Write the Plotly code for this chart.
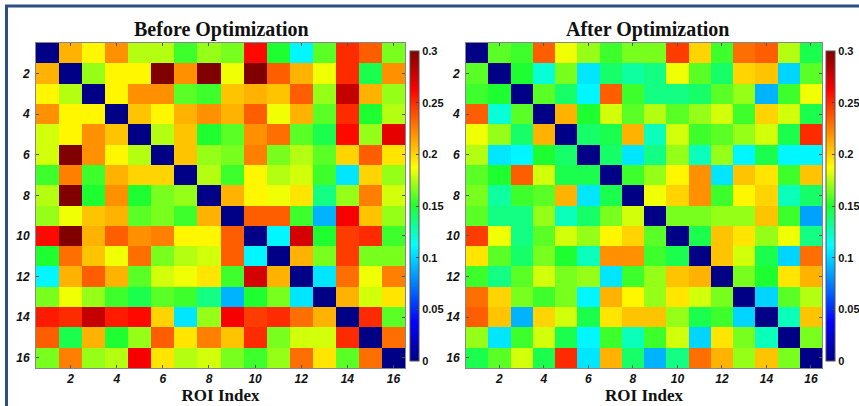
import plotly.graph_objects as go

roi = list(range(1, 17))
tick_vals = [2, 4, 6, 8, 10, 12, 14, 16]
tick_text = ["2", "4", "6", "8", "10", "12", "14", "16"]
cbar_vals = [0, 0.05, 0.1, 0.15, 0.2, 0.25, 0.3]
cbar_text = ["0", "0.05", "0.1", "0.15", "0.2", "0.25", "0.3"]

before = [
    [0, .21, .19, .22, .175, .175, .155, .17, .165, .26, .15, .11, .16, .25, .235, .165],
    [.21, 0, .17, .19, .19, .30, .22, .30, .185, .30, .235, .21, .185, .25, .145, .22],
    [.19, .175, 0, .19, .22, .22, .16, .155, .205, .21, .205, .235, .17, .28, .21, .17],
    [.22, .19, .19, 0, .205, .19, .21, .22, .21, .235, .185, .21, .16, .25, .15, .175],
    [.18, .19, .22, .205, 0, .175, .205, .15, .16, .22, .23, .16, .145, .26, .17, .27],
    [.18, .30, .22, .19, .175, 0, .205, .17, .165, .225, .165, .175, .16, .20, .235, .195],
    [.155, .225, .155, .21, .20, .20, 0, .175, .155, .19, .175, .18, .155, .105, .20, .17],
    [.175, .30, .15, .22, .15, .165, .17, 0, .21, .19, .185, .195, .135, .17, .225, .18],
    [.17, .185, .205, .21, .16, .165, .155, .21, 0, .235, .235, .155, .09, .265, .205, .17],
    [.26, .30, .21, .235, .22, .225, .19, .19, .235, 0, .11, .275, .15, .245, .25, .155],
    [.15, .23, .205, .185, .23, .165, .175, .18, .235, .11, 0, .21, .165, .245, .165, .165],
    [.11, .21, .235, .21, .16, .18, .185, .195, .155, .275, .21, 0, .105, .23, .185, .225],
    [.165, .185, .17, .155, .145, .16, .155, .135, .09, .15, .165, .105, 0, .21, .18, .195],
    [.255, .25, .28, .255, .26, .20, .105, .17, .265, .245, .25, .23, .21, 0, .25, .16],
    [.235, .145, .21, .15, .17, .235, .195, .225, .205, .25, .165, .18, .18, .25, 0, .23],
    [.165, .225, .17, .175, .265, .195, .175, .18, .165, .155, .17, .23, .195, .16, .23, 0],
]

after = [
    [0, .16, .155, .235, .185, .17, .155, .165, .165, .245, .20, .155, .23, .235, .175, .145],
    [.16, 0, .15, .12, .165, .105, .14, .13, .135, .185, .16, .14, .20, .205, .10, .16],
    [.155, .15, 0, .16, .14, .11, .235, .155, .135, .135, .14, .16, .17, .09, .155, .185],
    [.235, .12, .16, 0, .21, .15, .18, .16, .175, .16, .17, .18, .155, .20, .18, .145],
    [.185, .17, .14, .21, 0, .14, .145, .21, .125, .18, .155, .16, .17, .18, .145, .25],
    [.175, .105, .11, .15, .14, 0, .14, .105, .135, .17, .125, .17, .11, .145, .11, .11],
    [.16, .15, .235, .18, .145, .145, 0, .155, .17, .19, .22, .105, .205, .195, .155, .205],
    [.165, .13, .155, .16, .21, .105, .145, 0, .185, .20, .22, .155, .19, .20, .125, .14],
    [.16, .135, .135, .17, .125, .14, .165, .18, 0, .165, .165, .17, .17, .205, .155, .085],
    [.245, .185, .135, .16, .18, .17, .19, .20, .16, 0, .145, .205, .195, .17, .185, .135],
    [.195, .16, .14, .165, .15, .125, .22, .22, .155, .145, 0, .205, .18, .145, .10, .23],
    [.155, .135, .16, .18, .165, .17, .105, .155, .17, .205, .21, 0, .165, .15, .195, .21],
    [.23, .20, .165, .155, .165, .11, .21, .19, .17, .195, .18, .165, 0, .10, .16, .175],
    [.235, .205, .09, .20, .18, .145, .195, .205, .205, .17, .145, .155, .10, 0, .125, .205],
    [.17, .105, .155, .18, .145, .11, .155, .125, .155, .18, .10, .195, .165, .125, 0, .165],
    [.145, .16, .18, .145, .25, .105, .21, .14, .09, .135, .23, .21, .17, .205, .165, 0],
]

jet = [
    [0.0, "rgb(0,0,135)"],
    [0.125, "rgb(0,0,255)"],
    [0.375, "rgb(0,255,255)"],
    [0.5, "rgb(30,255,50)"],
    [0.625, "rgb(255,255,0)"],
    [0.875, "rgb(255,0,0)"],
    [1.0, "rgb(128,0,0)"],
]

W, H = 859, 406
L, R, T, B = 36, 37, 43, 38
PW, PH = W - L - R, H - T - B


def px_x(p):
    return (p - L) / PW


def px_y(p):
    return 1 - (p - T) / PH


def clip01(v):
    return max(0.0, min(1.0, v))


cb_font = dict(family="Liberation Sans, Arial", size=11, color="#111", weight="bold")


def make_cbar(xpx):
    return dict(
        x=px_x(xpx), xanchor="left", xpad=0,
        y=px_y(206), yanchor="middle", len=310 / PH, lenmode="fraction",
        thickness=9, ypad=0,
        outlinecolor="#555", outlinewidth=1,
        tickvals=cbar_vals, ticktext=cbar_text,
        ticks="inside", ticklen=3, tickcolor="#444",
        tickfont=cb_font,
    )


fig = go.Figure()
fig.add_trace(go.Heatmap(
    z=before, x=roi, y=roi, colorscale=jet, zmin=0, zmax=0.3,
    colorbar=make_cbar(410), xaxis="x", yaxis="y",
))
fig.add_trace(go.Heatmap(
    z=after, x=roi, y=roi, colorscale=jet, zmin=0, zmax=0.3,
    colorbar=make_cbar(826), xaxis="x2", yaxis="y2",
))

tick_font = dict(family="Liberation Sans Narrow, Liberation Sans, Arial", size=12,
                 color="#111", weight="bold", style="italic")
title_font = dict(family="Liberation Serif, Times New Roman", size=17, color="#111", weight="bold")

ax_common = dict(
    tickvals=tick_vals, ticktext=tick_text, tickfont=tick_font,
    ticks="inside", ticklen=3, tickcolor="#555",
    showline=True, linecolor="#888", linewidth=1, mirror="ticks",
    showgrid=False, zeroline=False, automargin=False,
)

fig.update_layout(
    width=W, height=H,
    margin=dict(l=L, r=R, t=T, b=B, autoexpand=False),
    paper_bgcolor="white", plot_bgcolor="white",
    showlegend=False,
    xaxis=dict(domain=[0, clip01(px_x(405))], anchor="y", range=[0.5, 16.5],
               title=dict(text="ROI Index", font=title_font, standoff=2), **ax_common),
    yaxis=dict(domain=[0, 1], anchor="x", range=[16.5, 0.5], ticklabelstandoff=3, **ax_common),
    xaxis2=dict(domain=[clip01(px_x(466)), clip01(px_x(822))], anchor="y2", range=[0.5, 16.5],
                title=dict(text="ROI Index", font=title_font, standoff=2), **ax_common),
    yaxis2=dict(domain=[0, 1], anchor="x2", range=[16.5, 0.5], ticklabelstandoff=3, **ax_common),
    annotations=[
        dict(text="Before Optimization", x=px_x(221), y=px_y(30), xref="paper", yref="paper",
             showarrow=False, xanchor="center", yanchor="middle",
             font=dict(family="Liberation Serif, Times New Roman", size=20, color="#111", weight="bold")),
        dict(text="After Optimization", x=px_x(648), y=px_y(30), xref="paper", yref="paper",
             showarrow=False, xanchor="center", yanchor="middle",
             font=dict(family="Liberation Serif, Times New Roman", size=20, color="#111", weight="bold")),
    ],
    shapes=[
        dict(type="line", xref="paper", yref="paper", x0=px_x(5), x1=px_x(W), y0=px_y(6), y1=px_y(6),
             line=dict(color="#2B4F81", width=3)),
        dict(type="line", xref="paper", yref="paper", x0=px_x(6.5), x1=px_x(6.5), y0=px_y(5), y1=px_y(H),
             line=dict(color="#2B4F81", width=3)),
    ],
)

fig.write_html(
    "out.html",
    config={"displayModeBar": False},
    post_script="document.body.style.margin='0px';document.body.style.overflow='hidden';",
)
